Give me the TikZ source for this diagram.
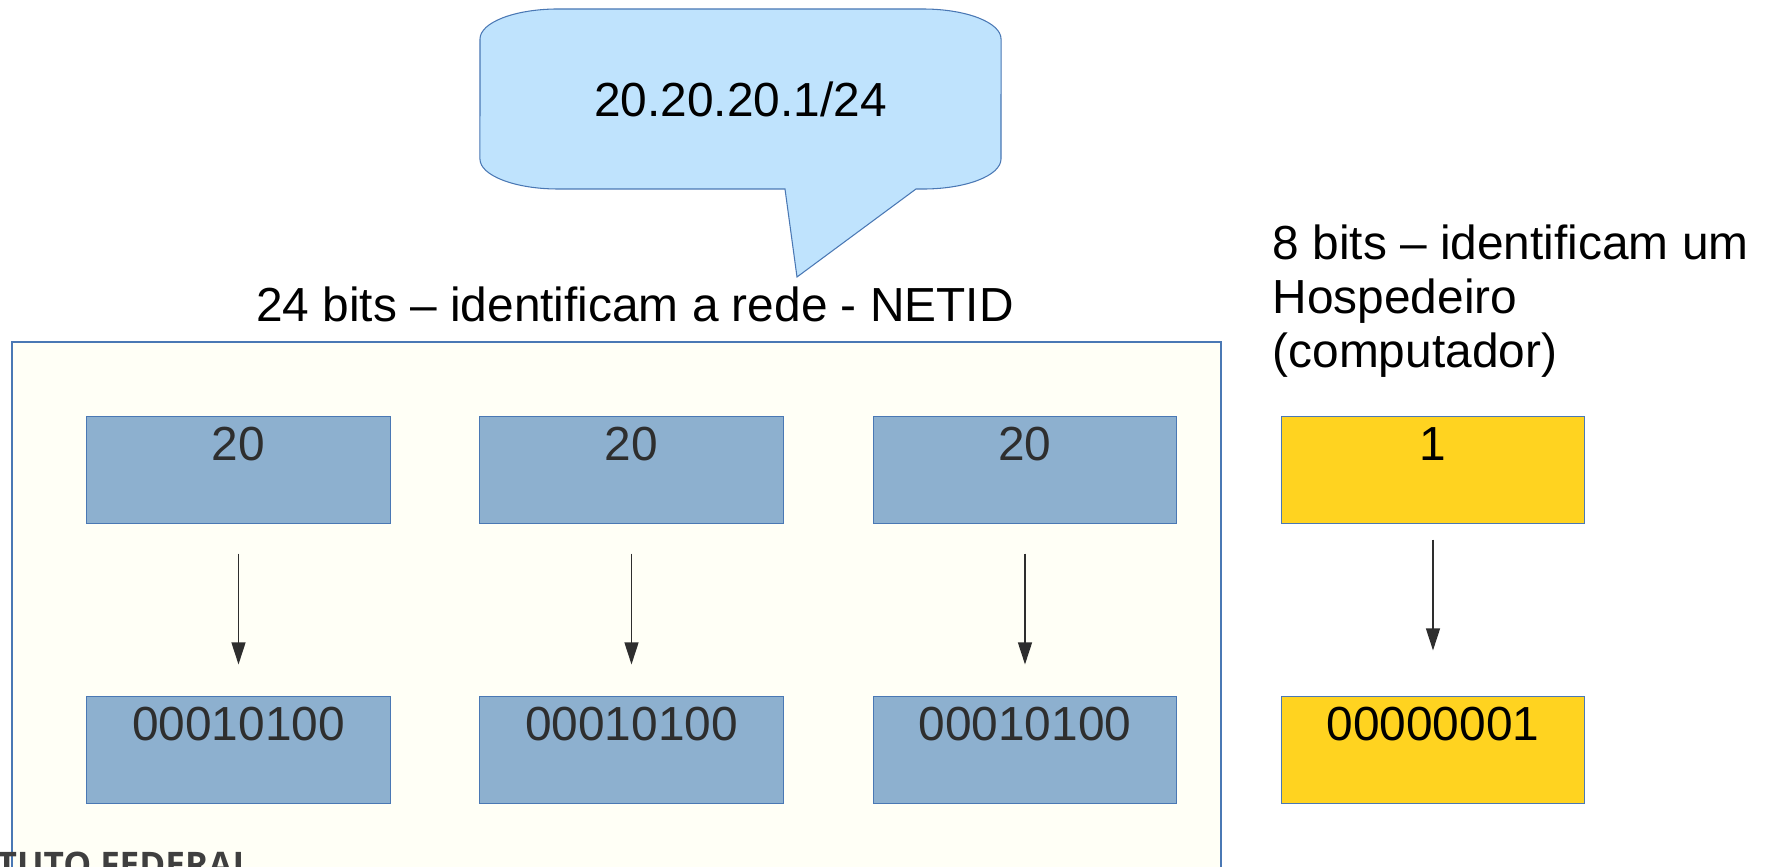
\documentclass[tikz,border=0pt]{standalone}
\usepackage{fontspec}
\setmainfont{Liberation Sans}
\newfontfamily\logofont{Open Sans}
\usetikzlibrary{arrows.meta}
\definecolor{panelfill}{HTML}{FFFFF6}
\definecolor{bordercol}{HTML}{4A78B4}
\definecolor{netfill}{HTML}{8DB0CF}
\definecolor{hostfill}{HTML}{FFD320}
\definecolor{callfill}{HTML}{BFE3FD}
\definecolor{numtext}{HTML}{2E2E2E}
\definecolor{logotext}{HTML}{3F3F3F}
\tikzset{
  bigtext/.style = {font=\fontsize{13.6pt}{15.36pt}\selectfont},
  netbox/.style = {
    bigtext, draw=bordercol, fill=netfill, text=numtext, line width=0.3pt,
    minimum width=3.03cm, inner ysep=0pt, text height=0.44cm, text depth=0.62cm
  },
  hostbox/.style = {netbox, fill=hostfill, text=black}
}
\tikzset{>={Triangle[length=2.2mm,width=1.4mm]}}

\begin{document}
\begin{tikzpicture}[x=0.01cm,y=-0.01cm]
  \useasboundingbox (0,0) rectangle (1768,867);
  % network part
  \draw[draw=bordercol, fill=panelfill, line width=0.3pt] (12,342) rectangle (1221,900);
  \node[font=\logofont\bfseries\fontsize{10pt}{12pt}\selectfont, text=logotext, anchor=base west, inner sep=0pt] (logo) at (-4,877) {TUTO FEDERAL};
  % callout
  \coordinate (tip) at (797,277);
  \draw[draw=bordercol, fill=callfill, line width=0.3pt]
    (558,9) -- (923,9) arc[start angle=90, end angle=0, x radius=0.78cm, y radius=0.30cm]
    -- (1001,159) arc[start angle=0, end angle=-90, x radius=0.78cm, y radius=0.30cm]
    -- (916,189) -- (tip) -- (785,189) -- (558,189)
    arc[start angle=270, end angle=180, x radius=0.78cm, y radius=0.30cm]
    -- (480,39) arc[start angle=180, end angle=90, x radius=0.78cm, y radius=0.30cm] -- cycle;
  \node[bigtext, anchor=base] (ip) at (740.5,117) {20.20.20.1/24};
  % labels
  \node[bigtext, anchor=base] (netid) at (635,322) {24 bits -- identificam a rede - NETID};
  \node[bigtext, anchor=base west, align=left, inner sep=0pt] (hostid) at (1272,368) {8 bits -- identificam um\\Hospedeiro\\(computador)};
  % decimal
  \node[netbox] (d1) at (238.5,470) {20};
  \node[netbox] (d2) at (631.5,470) {20};
  \node[netbox] (d3) at (1025,470) {20};
  \node[hostbox] (d4) at (1433,470) {1};
  % binary
  \node[netbox] (b1) at (238.5,750) {00010100};
  \node[netbox] (b2) at (631.5,750) {00010100};
  \node[netbox] (b3) at (1025,750) {00010100};
  \node[hostbox] (b4) at (1433,750) {00000001};
  % arrows
  \draw[->, numtext, line width=0.35pt, shorten <=0.30cm, shorten >=0.32cm] (d1) -- (b1);
  \draw[->, numtext, line width=0.35pt, shorten <=0.30cm, shorten >=0.32cm] (d2) -- (b2);
  \draw[->, numtext, line width=0.35pt, shorten <=0.30cm, shorten >=0.32cm] (d3) -- (b3);
  \draw[->, numtext, line width=0.35pt, shorten <=0.16cm, shorten >=0.46cm] (d4) -- (b4);
\end{tikzpicture}
\end{document}
